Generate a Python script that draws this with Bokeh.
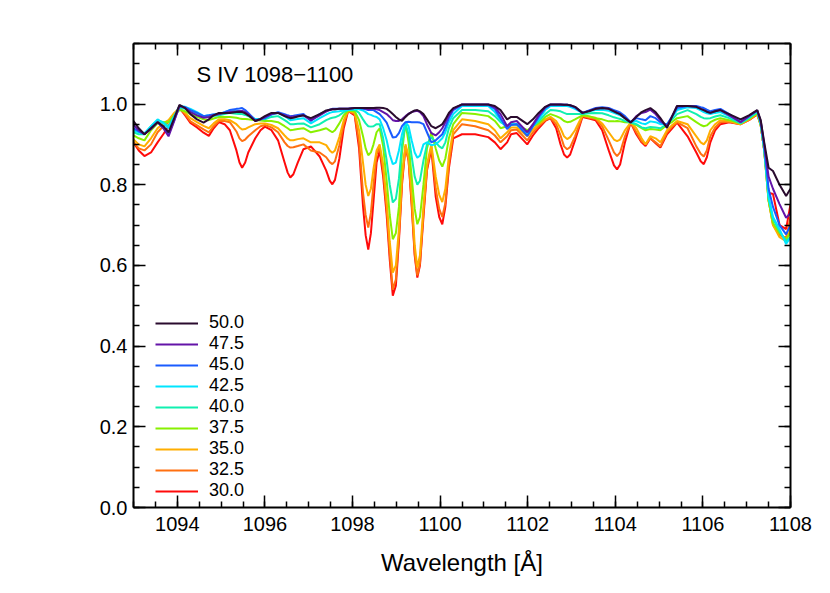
from bokeh.plotting import figure
from bokeh.models import (Range1d, LinearAxis, SingleIntervalTicker, NumeralTickFormatter,
                          Label, Legend, LegendItem, CustomJSTickFormatter)
from bokeh.embed import file_html
from bokeh.resources import INLINE

wavelength = [1093.00, 1093.12, 1093.25, 1093.40, 1093.55, 1093.68, 1093.80, 1093.93, 1094.05, 1094.18,
              1094.30, 1094.45, 1094.60, 1094.72, 1094.83, 1094.95, 1095.08, 1095.20, 1095.35, 1095.42,
              1095.48, 1095.55, 1095.62, 1095.78, 1095.90, 1096.00, 1096.15, 1096.30, 1096.45, 1096.52,
              1096.58, 1096.65, 1096.75, 1096.88, 1097.05, 1097.25, 1097.40, 1097.48, 1097.54, 1097.60,
              1097.70, 1097.80, 1097.90, 1098.05, 1098.15, 1098.24, 1098.30, 1098.36, 1098.42, 1098.48,
              1098.55, 1098.62, 1098.70, 1098.78, 1098.85, 1098.92, 1098.99, 1099.06, 1099.13, 1099.21,
              1099.28, 1099.35, 1099.42, 1099.48, 1099.54, 1099.62, 1099.70, 1099.80, 1099.90, 1099.98,
              1100.05, 1100.12, 1100.20, 1100.30, 1100.50, 1100.80, 1101.10, 1101.25, 1101.38, 1101.53,
              1101.62, 1101.75, 1101.99, 1102.12, 1102.25, 1102.40, 1102.52, 1102.65, 1102.75, 1102.83,
              1102.90, 1102.97, 1103.08, 1103.25, 1103.40, 1103.55, 1103.70, 1103.85, 1103.97, 1104.04,
              1104.11, 1104.22, 1104.35, 1104.48, 1104.60, 1104.69, 1104.80, 1104.92, 1105.03, 1105.18,
              1105.30, 1105.41, 1105.65, 1105.85, 1105.95, 1106.02, 1106.09, 1106.17, 1106.28, 1106.40,
              1106.60, 1106.86, 1107.05, 1107.24, 1107.32, 1107.40, 1107.50, 1107.60, 1107.75, 1107.90,
              1108.00]

flux_50_0 = [.958, .940, .925, .940, .955, .945, .930, .965, .998, .990,
             .975, .962, .954, .962, .972, .978, .978, .978, .980, .980,
             .980, .977, .972, .958, .963, .970, .978, .978, .970, .967,
             .965, .966, .969, .972, .965, .975, .984, .986, .987, .987,
             .988, .988, .988, .990, .990, .990, .990, .990, .990, .990,
             .991, .991, .990, .988, .982, .975, .968, .962, .958, .968,
             .975, .980, .984, .985, .982, .975, .962, .945, .940, .945,
             .950, .962, .978, .990, .999, .999, .999, .995, .985, .962,
             .968, .968, .950, .962, .978, .993, .999, .999, .999, .998,
             .998, .997, .993, .978, .982, .988, .990, .988, .982, .978,
             .975, .965, .954, .968, .980, .985, .990, .980, .965, .941,
             .970, .995, .995, .993, .988, .985, .981, .978, .982, .985,
             .975, .962, .972, .985, .960, .905, .842, .834, .800, .772,
             .790]
flux_47_5 = [.948, .935, .925, .938, .955, .940, .920, .958, .996, .990,
             .980, .972, .966, .968, .972, .975, .978, .980, .982, .983,
             .983, .980, .975, .958, .962, .968, .975, .978, .972, .970,
             .968, .969, .970, .972, .960, .972, .982, .985, .987, .987,
             .988, .988, .988, .990, .990, .990, .989, .987, .988, .988,
             .987, .985, .980, .975, .968, .960, .958, .958, .962, .970,
             .976, .980, .982, .983, .980, .970, .950, .928, .922, .930,
             .940, .955, .972, .988, .999, .999, .999, .992, .975, .945,
             .955, .958, .930, .950, .972, .992, .999, .999, .999, .998,
             .998, .997, .993, .978, .983, .988, .990, .988, .982, .978,
             .975, .965, .954, .970, .978, .980, .986, .975, .960, .945,
             .970, .995, .995, .993, .988, .985, .981, .978, .982, .985,
             .972, .955, .970, .984, .958, .900, .820, .790, .752, .718,
             .730]
flux_45_0 = [.940, .932, .925, .940, .955, .942, .925, .960, .994, .992,
             .985, .978, .970, .972, .974, .975, .980, .985, .988, .989,
             .990, .985, .978, .960, .962, .965, .975, .980, .975, .972,
             .970, .971, .973, .975, .958, .975, .982, .986, .988, .988,
             .988, .988, .988, .990, .990, .988, .987, .985, .985, .985,
             .980, .975, .965, .954, .935, .917, .918, .928, .945, .955,
             .956, .955, .955, .955, .954, .950, .930, .905, .910, .918,
             .925, .942, .965, .985, .998, .998, .998, .988, .965, .938,
             .948, .950, .921, .945, .968, .990, .998, .998, .998, .998,
             .998, .996, .991, .978, .984, .990, .992, .990, .985, .982,
             .979, .970, .955, .965, .962, .960, .970, .965, .955, .948,
             .970, .990, .995, .995, .992, .990, .986, .982, .985, .988,
             .975, .955, .970, .984, .955, .895, .790, .745, .700, .677,
             .700]
flux_42_5 = [.935, .930, .928, .945, .962, .952, .940, .970, .995, .993,
             .988, .980, .970, .972, .974, .975, .980, .985, .984, .983,
             .982, .979, .975, .962, .963, .965, .973, .978, .970, .965,
             .960, .961, .963, .965, .952, .965, .974, .978, .980, .981,
             .982, .984, .986, .988, .987, .984, .980, .975, .973, .970,
             .968, .962, .940, .910, .875, .851, .855, .885, .925, .955,
             .945, .910, .880, .867, .872, .900, .905, .898, .900, .908,
             .915, .930, .955, .975, .995, .995, .995, .980, .960, .940,
             .950, .950, .925, .945, .962, .985, .995, .995, .995, .995,
             .995, .993, .988, .978, .982, .985, .986, .983, .978, .975,
             .972, .965, .955, .958, .952, .950, .957, .955, .950, .950,
             .968, .985, .992, .990, .984, .980, .977, .975, .978, .980,
             .970, .955, .968, .983, .952, .890, .770, .720, .690, .653,
             .670]
flux_40_0 = [.930, .925, .925, .945, .960, .955, .945, .970, .990, .988,
             .982, .975, .968, .968, .970, .972, .975, .978, .976, .975,
             .975, .973, .970, .962, .962, .962, .968, .970, .960, .955,
             .950, .950, .951, .952, .942, .950, .960, .964, .966, .967,
             .972, .980, .985, .986, .978, .962, .952, .945, .944, .945,
             .950, .950, .915, .860, .800, .756, .765, .815, .900, .950,
             .925, .870, .820, .800, .810, .860, .900, .918, .905, .895,
             .890, .905, .940, .965, .985, .985, .982, .970, .955, .945,
             .952, .950, .930, .945, .957, .975, .985, .984, .982, .978,
             .975, .975, .975, .975, .977, .978, .977, .972, .967, .965,
             .963, .958, .954, .950, .942, .940, .943, .942, .940, .950,
             .962, .975, .985, .975, .968, .965, .964, .965, .969, .972,
             .965, .952, .965, .980, .950, .885, .765, .715, .685, .660,
             .670]
flux_37_5 = [.922, .915, .910, .935, .952, .955, .955, .972, .985, .982,
             .975, .968, .962, .960, .964, .968, .968, .968, .966, .964,
             .963, .963, .962, .960, .959, .958, .958, .955, .945, .940,
             .935, .936, .938, .940, .930, .935, .940, .934, .930, .935,
             .952, .972, .984, .982, .960, .920, .890, .873, .880, .900,
             .930, .940, .895, .810, .725, .665, .680, .745, .880, .954,
             .905, .820, .740, .702, .720, .800, .890, .930, .890, .860,
             .845, .865, .915, .950, .978, .975, .970, .958, .940, .945,
             .950, .948, .935, .945, .952, .968, .975, .970, .965, .958,
             .955, .956, .962, .972, .970, .965, .962, .957, .957, .958,
             .957, .955, .954, .948, .940, .935, .938, .937, .935, .948,
             .956, .965, .970, .955, .948, .945, .947, .955, .961, .965,
             .960, .952, .963, .978, .948, .885, .760, .705, .680, .665,
             .680]
flux_35_0 = [.912, .900, .895, .915, .940, .952, .960, .978, .990, .978,
             .965, .955, .946, .940, .952, .962, .962, .960, .950, .942,
             .937, .938, .942, .950, .952, .952, .948, .940, .922, .914,
             .910, .910, .913, .915, .905, .905, .898, .885, .879, .885,
             .918, .960, .984, .978, .935, .855, .800, .772, .790, .840,
             .885, .900, .850, .760, .660, .582, .600, .690, .820, .900,
             .870, .780, .650, .595, .625, .745, .850, .900, .820, .775,
             .757, .790, .870, .935, .962, .958, .950, .935, .915, .930,
             .942, .942, .920, .937, .950, .962, .968, .958, .940, .920,
             .913, .918, .935, .972, .968, .966, .952, .930, .912, .908,
             .912, .935, .954, .940, .915, .900, .920, .915, .905, .935,
             .948, .958, .950, .920, .905, .900, .910, .935, .950, .960,
             .958, .950, .962, .976, .948, .885, .760, .700, .670, .660,
             .690]
flux_32_5 = [.905, .890, .885, .900, .930, .945, .955, .975, .990, .975,
             .957, .947, .937, .930, .945, .958, .958, .955, .932, .915,
             .908, .912, .920, .935, .945, .948, .942, .930, .905, .896,
             .892, .893, .896, .900, .885, .880, .868, .856, .851, .858,
             .898, .950, .983, .975, .905, .780, .725, .694, .730, .800,
             .875, .893, .835, .740, .630, .540, .565, .670, .810, .893,
             .862, .760, .630, .575, .605, .730, .840, .895, .790, .740,
             .720, .755, .850, .925, .950, .945, .935, .922, .905, .920,
             .935, .937, .910, .930, .945, .960, .965, .950, .922, .895,
             .888, .893, .920, .970, .966, .963, .945, .910, .880, .871,
             .880, .920, .954, .930, .908, .900, .915, .905, .895, .930,
             .944, .955, .940, .895, .877, .870, .885, .920, .942, .955,
             .956, .950, .960, .975, .948, .885, .762, .700, .675, .668,
             .720]
flux_30_0 = [.905, .885, .871, .880, .905, .925, .945, .972, .990, .972,
             .953, .942, .929, .921, .940, .955, .950, .935, .885, .855,
             .842, .855, .880, .915, .935, .944, .935, .910, .855, .830,
             .818, .826, .855, .888, .895, .870, .835, .810, .801, .812,
             .865, .940, .983, .972, .890, .747, .675, .639, .680, .760,
             .855, .884, .820, .725, .615, .525, .550, .660, .800, .896,
             .860, .750, .625, .570, .600, .720, .835, .889, .770, .720,
             .702, .745, .840, .915, .925, .925, .918, .905, .888, .905,
             .925, .928, .900, .922, .940, .958, .965, .940, .900, .875,
             .867, .875, .910, .968, .964, .960, .935, .885, .848, .838,
             .850, .905, .954, .925, .905, .896, .915, .903, .892, .925,
             .940, .954, .920, .880, .858, .851, .868, .905, .935, .950,
             .955, .950, .960, .974, .948, .885, .780, .777, .700, .690,
             .752]

series_labels = ["50.0", "47.5", "45.0", "42.5", "40.0", "37.5", "35.0", "32.5", "30.0"]
series_values = [flux_50_0, flux_47_5, flux_45_0, flux_42_5, flux_40_0, flux_37_5, flux_35_0, flux_32_5, flux_30_0]
series_colors = ["#2a0b2e", "#6414a8", "#1a5cff", "#00e5ff", "#10f0b0", "#88f000", "#ffae00", "#ff7010", "#ff0a0a"]

title_text = "S IV 1098\u22121100"
x_label = "Wavelength [\u00c5]"

FONT = "Liberation Sans"

p = figure(width=822, height=585, x_range=Range1d(1093, 1108), y_range=Range1d(0, 1.15),
           output_backend="svg", toolbar_location=None,
           min_border_left=133, min_border_right=32, min_border_top=43, min_border_bottom=78)
p.xgrid.visible = False
p.ygrid.visible = False
p.outline_line_color = None
p.background_fill_color = "white"
p.border_fill_color = "white"

renderers = []
for vals, col in zip(reversed(series_values), reversed(series_colors)):
    n = min(len(wavelength), len(vals))
    r = p.line(wavelength[:n], vals[:n], line_color=col, line_width=2)
    renderers.append(r)
renderers = list(reversed(renderers))

bottom = p.below[0]
left = p.left[0]
bottom.ticker = SingleIntervalTicker(interval=2, num_minor_ticks=4)
left.ticker = SingleIntervalTicker(interval=0.2, num_minor_ticks=4)
left.formatter = NumeralTickFormatter(format="0.0")

top = LinearAxis(ticker=SingleIntervalTicker(interval=2, num_minor_ticks=4),
                 formatter=CustomJSTickFormatter(code="return ''"))
right = LinearAxis(ticker=SingleIntervalTicker(interval=0.2, num_minor_ticks=4),
                   formatter=CustomJSTickFormatter(code="return ''"))
p.add_layout(top, "above")
p.add_layout(right, "right")

for ax in [bottom, left, top, right]:
    ax.axis_line_width = 2
    ax.axis_line_color = "black"
    ax.major_tick_in = 12
    ax.major_tick_out = 0
    ax.minor_tick_in = 6
    ax.minor_tick_out = 0
    ax.major_tick_line_width = 1.5
    ax.minor_tick_line_width = 1.5
    ax.major_tick_line_color = "black"
    ax.minor_tick_line_color = "black"
    ax.major_label_text_font = FONT
    ax.major_label_text_font_size = "20px"
    ax.major_label_text_color = "black"

top.major_label_standoff = 0
right.major_label_standoff = 0
bottom.major_label_standoff = 9
left.major_label_standoff = 6
bottom.axis_label = x_label
bottom.axis_label_text_font = FONT
bottom.axis_label_text_font_size = "24px"
bottom.axis_label_text_font_style = "normal"
bottom.axis_label_text_color = "black"
bottom.axis_label_standoff = 15

p.add_layout(Label(x=1094.44, y=1.074, text=title_text, text_font=FONT, text_font_size="22px",
                   text_baseline="middle", text_color="black"))

legend = Legend(items=[LegendItem(label=lab, renderers=[r]) for lab, r in zip(series_labels, renderers)],
                location=(22, 6), padding=0, margin=0, spacing=0,
                glyph_width=43, glyph_height=16, label_height=16, label_standoff=11,
                label_text_font=FONT, label_text_font_size="18px", label_text_color="black",
                border_line_color=None, background_fill_alpha=0)
p.add_layout(legend)

open("out.html", "w").write(file_html(p, INLINE))
